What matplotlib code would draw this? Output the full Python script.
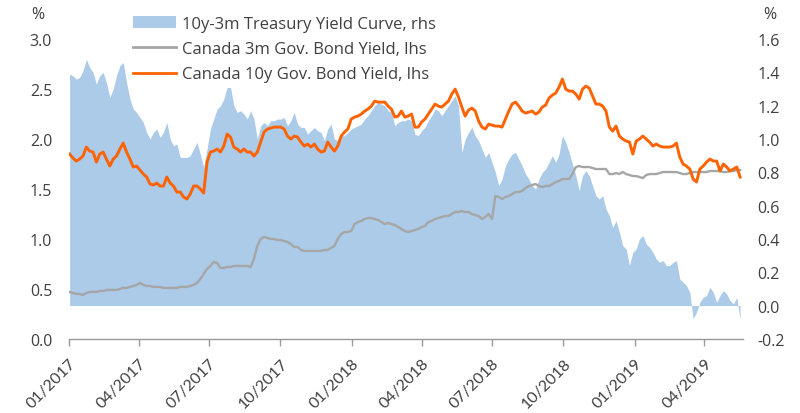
import pandas as pd
import matplotlib
matplotlib.use('Agg')
import matplotlib.pyplot as plt
import matplotlib.dates as mdates
from matplotlib.patches import Patch
from matplotlib.lines import Line2D

# sample dates (daily data read off roughly every 4 days)
dates = pd.date_range('2017-01-02', '2019-05-17', periods=201)

# 10y-3m US Treasury yield curve, rhs (%)
curve = [
    1.39, 1.38, 1.36, 1.37, 1.41, 1.48, 1.43, 1.40, 1.33, 1.38,
    1.40, 1.34, 1.25, 1.30, 1.38, 1.44, 1.46, 1.34, 1.24, 1.18,
    1.16, 1.13, 1.10, 1.04, 1.00, 1.04, 1.06, 1.01, 1.04, 1.10,
    1.00, 0.96, 0.97, 0.89, 0.89, 0.89, 0.90, 0.94, 0.98, 0.91,
    0.83, 0.94, 1.06, 1.12, 1.18, 1.20, 1.24, 1.31, 1.31, 1.20,
    1.16, 1.17, 1.15, 1.12, 1.17, 1.12, 1.00, 1.08, 1.10, 1.08,
    1.11, 1.11, 1.12, 1.12, 1.13, 1.08, 1.11, 1.16, 1.09, 1.07,
    1.07, 1.03, 1.05, 1.07, 1.05, 1.04, 0.99, 1.06, 1.09, 1.00,
    0.99, 1.02, 1.02, 1.04, 1.06, 1.07, 1.08, 1.09, 1.12, 1.14,
    1.17, 1.20, 1.22, 1.21, 1.20, 1.17, 1.16, 1.08, 1.10, 1.11,
    1.11, 1.12, 1.11, 1.03, 1.02, 1.05, 1.07, 1.11, 1.14, 1.18,
    1.17, 1.14, 1.17, 1.20, 1.23, 1.26, 1.20, 0.92, 1.00, 1.04,
    1.07, 1.02, 0.99, 0.94, 0.89, 0.92, 0.86, 0.80, 0.72, 0.76,
    0.84, 0.88, 0.91, 0.92, 0.88, 0.84, 0.79, 0.76, 0.72, 0.70,
    0.76, 0.80, 0.82, 0.86, 0.90, 0.86, 0.91, 1.02, 0.98, 0.92,
    0.85, 0.78, 0.69, 0.78, 0.81, 0.78, 0.72, 0.66, 0.64, 0.66,
    0.58, 0.54, 0.47, 0.51, 0.44, 0.36, 0.34, 0.24, 0.32, 0.34,
    0.40, 0.42, 0.37, 0.35, 0.32, 0.28, 0.26, 0.27, 0.24, 0.24,
    0.26, 0.27, 0.16, 0.14, 0.12, 0.08, -0.08, -0.04, 0.02, 0.05,
    0.06, 0.11, 0.08, 0.02, 0.06, 0.09, 0.07, 0.03, 0.01, 0.05,
    -0.08,
]

# Canada 3m government bond yield, lhs (%)
ca_3m = [
    0.47, 0.46, 0.45, 0.45, 0.44, 0.46, 0.47, 0.47, 0.47, 0.48,
    0.48, 0.49, 0.49, 0.49, 0.49, 0.50, 0.51, 0.51, 0.52, 0.53,
    0.54, 0.56, 0.54, 0.53, 0.53, 0.52, 0.52, 0.52, 0.51, 0.51,
    0.51, 0.51, 0.51, 0.52, 0.52, 0.52, 0.53, 0.54, 0.56, 0.60,
    0.65, 0.70, 0.73, 0.77, 0.76, 0.71, 0.71, 0.72, 0.72, 0.73,
    0.73, 0.73, 0.73, 0.73, 0.72, 0.80, 0.93, 1.00, 1.02, 1.01,
    1.00, 1.00, 0.99, 0.99, 0.98, 0.97, 0.95, 0.92, 0.92, 0.89,
    0.88, 0.88, 0.88, 0.88, 0.88, 0.88, 0.89, 0.89, 0.91, 0.93,
    1.00, 1.05, 1.07, 1.07, 1.08, 1.15, 1.17, 1.18, 1.20, 1.21,
    1.21, 1.20, 1.19, 1.17, 1.15, 1.16, 1.15, 1.14, 1.12, 1.10,
    1.08, 1.07, 1.08, 1.09, 1.10, 1.12, 1.13, 1.17, 1.18, 1.20,
    1.21, 1.22, 1.23, 1.23, 1.25, 1.27, 1.27, 1.28, 1.27, 1.27,
    1.25, 1.24, 1.23, 1.20, 1.22, 1.25, 1.20, 1.43, 1.42, 1.40,
    1.42, 1.43, 1.45, 1.47, 1.47, 1.48, 1.51, 1.53, 1.54, 1.55,
    1.53, 1.52, 1.53, 1.53, 1.55, 1.57, 1.58, 1.60, 1.60, 1.60,
    1.65, 1.72, 1.73, 1.72, 1.72, 1.72, 1.71, 1.70, 1.70, 1.70,
    1.70, 1.65, 1.65, 1.66, 1.65, 1.67, 1.65, 1.64, 1.63, 1.63,
    1.62, 1.61, 1.64, 1.65, 1.65, 1.65, 1.66, 1.67, 1.67, 1.67,
    1.67, 1.67, 1.66, 1.65, 1.65, 1.66, 1.67, 1.67, 1.67, 1.67,
    1.67, 1.68, 1.68, 1.68, 1.68, 1.67, 1.67, 1.68, 1.68, 1.69,
    1.69,
]

# Canada 10y government bond yield, lhs (%)
ca_10y = [
    1.85, 1.81, 1.78, 1.80, 1.83, 1.92, 1.88, 1.87, 1.77, 1.85,
    1.87, 1.80, 1.73, 1.80, 1.83, 1.90, 1.96, 1.87, 1.80, 1.72,
    1.73, 1.69, 1.65, 1.62, 1.55, 1.54, 1.56, 1.53, 1.53, 1.62,
    1.56, 1.53, 1.47, 1.47, 1.42, 1.40, 1.45, 1.53, 1.53, 1.50,
    1.46, 1.77, 1.87, 1.88, 1.90, 1.87, 1.93, 2.05, 2.02, 1.92,
    1.90, 1.87, 1.90, 1.87, 1.87, 1.83, 1.87, 1.97, 2.07, 2.10,
    2.11, 2.12, 2.12, 2.12, 2.10, 2.03, 2.00, 2.03, 2.02, 1.97,
    1.93, 1.95, 1.92, 1.95, 1.90, 1.87, 1.88, 1.97, 1.92, 1.88,
    1.93, 2.03, 2.07, 2.10, 2.20, 2.22, 2.23, 2.25, 2.28, 2.30,
    2.33, 2.38, 2.37, 2.37, 2.37, 2.33, 2.30, 2.22, 2.23, 2.28,
    2.22, 2.23, 2.25, 2.12, 2.12, 2.17, 2.20, 2.25, 2.30, 2.35,
    2.33, 2.32, 2.35, 2.38, 2.45, 2.50, 2.42, 2.32, 2.23, 2.29,
    2.31, 2.28, 2.18, 2.12, 2.10, 2.15, 2.14, 2.13, 2.13, 2.12,
    2.20, 2.28, 2.35, 2.37, 2.33, 2.28, 2.26, 2.27, 2.28, 2.25,
    2.27, 2.32, 2.34, 2.41, 2.44, 2.46, 2.52, 2.60, 2.50, 2.48,
    2.48, 2.45, 2.40, 2.50, 2.53, 2.51, 2.43, 2.35, 2.35, 2.33,
    2.28, 2.12, 2.08, 2.13, 2.03, 2.00, 1.98, 1.97, 1.85, 1.98,
    2.00, 2.03, 2.00, 1.97, 1.93, 1.95, 1.93, 1.92, 1.92, 1.92,
    1.93, 1.96, 1.82, 1.75, 1.73, 1.70, 1.60, 1.57, 1.70, 1.73,
    1.77, 1.80, 1.78, 1.78, 1.68, 1.75, 1.72, 1.68, 1.70, 1.72,
    1.62,
]

label_curve = '10y-3m Treasury Yield Curve, rhs'
label_3m = 'Canada 3m Gov. Bond Yield, lhs'
label_10y = 'Canada 10y Gov. Bond Yield, lhs'

blue = '#abcbe9'
grey = '#a6a6a6'
orange = '#ff6200'
text_col = '#404040'

plt.rcParams['font.family'] = ['Open Sans', 'DejaVu Sans']

fig = plt.figure(figsize=(8, 4.14), dpi=100)
ax = fig.add_axes([0.086, 0.179, 0.843, 0.724])
ax2 = ax.twinx()

# fill on the right axis, kept behind the lines
ax2.fill_between(dates, 0, curve, color=blue, linewidth=0)
ax.set_zorder(ax2.get_zorder() + 1)
ax.patch.set_visible(False)

ax.plot(dates, ca_3m, color=grey, linewidth=1.7)
ax.plot(dates, ca_10y, color=orange, linewidth=2.1)

ax.set_ylim(0, 3.0)
ax.set_yticks([0, 0.5, 1.0, 1.5, 2.0, 2.5, 3.0])
ax.yaxis.set_major_formatter(matplotlib.ticker.FormatStrFormatter('%.1f'))
ax2.set_ylim(-0.2, 1.6)
ax2.set_yticks([-0.2, 0, 0.2, 0.4, 0.6, 0.8, 1.0, 1.2, 1.4, 1.6])
ax2.yaxis.set_major_formatter(matplotlib.ticker.FormatStrFormatter('%.1f'))

ax.set_xlim(pd.Timestamp('2017-01-01'), pd.Timestamp('2019-05-21'))
ax.xaxis.set_major_locator(mdates.MonthLocator(bymonth=[1, 4, 7, 10]))
ax.xaxis.set_major_formatter(mdates.DateFormatter('%m/%Y'))

for a in (ax, ax2):
    for s in a.spines.values():
        s.set_visible(False)
ax.spines['bottom'].set_visible(True)
ax.spines['bottom'].set_color('#999999')
ax.spines['bottom'].set_linewidth(1.0)

ax.tick_params(axis='y', length=0, pad=12, labelsize=11.5, labelcolor=text_col)
ax2.tick_params(axis='y', length=0, pad=10, labelsize=11.5, labelcolor=text_col)
ax.tick_params(axis='x', length=5, width=1, color='#999999',
               labelcolor=text_col, pad=7)
for lab in ax.get_xticklabels():
    lab.set_family(['Lato', 'DejaVu Sans'])
    lab.set_fontsize(11.5)
    lab.set_rotation(45)
    lab.set_ha('right')
    lab.set_va('top')
    lab.set_rotation_mode('anchor')

fig.text(38 / 800, 1 - 15 / 414, '%', fontsize=11.5, color=text_col,
         ha='center', va='center')
fig.text(770 / 800, 1 - 15 / 414, '%', fontsize=11.5, color=text_col,
         ha='center', va='center')

handles = [
    Patch(facecolor=blue, edgecolor='none'),
    Line2D([], [], color=grey, linewidth=2),
    Line2D([], [], color=orange, linewidth=2),
]
fig.legend(handles, [label_curve, label_3m, label_10y], loc='upper left',
           bbox_to_anchor=(133 / 800, 1 - 17 / 414), frameon=False,
           fontsize=12, handlelength=2.6, handletextpad=0.36,
           labelspacing=0.55, borderpad=0, borderaxespad=0,
           labelcolor=text_col)

fig.savefig('out.png', dpi=100)
